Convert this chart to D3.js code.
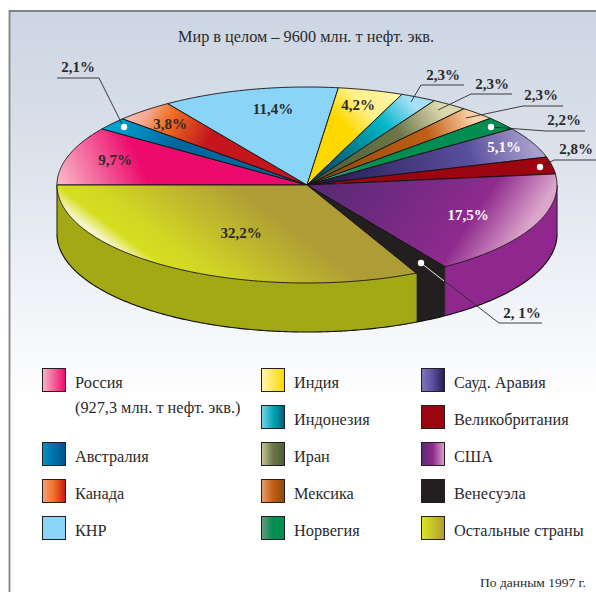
<!DOCTYPE html>
<html lang="ru">
<head>
<meta charset="utf-8">
<script src="https://cdn.jsdelivr.net/npm/d3@7"></script>
<style>
  html, body { margin: 0; padding: 0; background: #fff; }
  svg { display: block; }
  text { font-family: "Liberation Serif", serif; fill: #2b2a2b; }
</style>
</head>
<body>
<div id="chart"></div>
<script>
const categories = ["Россия", "Австралия", "Канада", "КНР", "Индия", "Индонезия", "Иран", "Мексика", "Норвегия", "Сауд. Аравия", "Великобритания", "США", "Венесуэла", "Остальные страны"];
const shares = [9.7, 2.1, 3.8, 11.4, 4.2, 2.3, 2.3, 2.3, 2.2, 5.1, 2.8, 17.5, 2.1, 32.2];
const shareLabels = ["9,7%", "2,1%", "3,8%", "11,4%", "4,2%", "2,3%", "2,3%", "2,3%", "2,2%", "5,1%", "2,8%", "17,5%", "2, 1%", "32,2%"];
const legendColumns = [
  ["Россия", null, "Австралия", "Канада", "КНР"],
  ["Индия", "Индонезия", "Иран", "Мексика", "Норвегия"],
  ["Сауд. Аравия", "Великобритания", "США", "Венесуэла", "Остальные страны"]
];
const titleText = "Мир в целом – 9600 млн. т нефт. экв.";
const russiaNote = "(927,3 млн. т нефт. экв.)";
const sourceText = "По данным 1997 г.";

const width = 596, height = 592;
const cx = 307, cy = 185, rx = 250, ry = 98, depth = 49;

// unit pie coords -> page pixels
const x = d3.scaleLinear().domain([-1, 1]).range([cx - rx, cx + rx]);
const y = d3.scaleLinear().domain([-1, 1]).range([cy - ry, cy + ry]);

// top face gradients: vector in unit pie coords, then [offset, colour]
const faceStyles = {
  "Россия": { v: [-0.99, -0.02, -0.69, -0.36], s: [[0, "#f9b6c6"], [1, "#ec0a6c"]] },
  "Австралия": { v: [-0.8, -0.56, -0.55, -0.3], s: [[0, "#00a6d6"], [1, "#00679e"]] },
  "Канада": { v: [-0.72, -0.75, -0.39, -0.28], s: [[0, "#f8c0b8"], [0.2, "#f6a890"], [0.42, "#f07022"], [0.9, "#c4161c"]] },
  "КНР": { s: [[0, "#89d4f7"], [1, "#89d4f7"]] },
  "Индия": { v: [0.31, -0.97, 0.15, -0.61], s: [[0, "#fff4a0"], [0.5, "#fff08a"], [1, "#ffd800"]] },
  "Индонезия": { v: [0.4, -0.89, 0.05, -0.1], s: [[0, "#a6e0f8"], [0.3, "#00b6c6"], [1, "#004a62"]] },
  "Иран": { v: [0.53, -0.79, 0.05, -0.1], s: [[0, "#dcd8ae"], [0.35, "#6b7648"], [1, "#4c6038"]] },
  "Мексика": { v: [0.67, -0.68, 0.05, -0.1], s: [[0, "#fcd4ac"], [0.3, "#c25e14"], [1, "#8a4a0c"]] },
  "Норвегия": { v: [0.75, -0.55, 0.05, -0.05], s: [[0, "#018e50"], [0.7, "#018e50"], [1, "#3aa890"]] },
  "Сауд. Аравия": { v: [0.89, -0.56, 0.05, -0.03], s: [[0, "#a89fce"], [0.3, "#5a4f9d"], [1, "#241b52"]] },
  "Великобритания": { s: [[0, "#9a0510"], [1, "#9a0510"]] },
  "США": { v: [0.89, 0.41, 0.25, -0.67], s: [[0, "#dca5cb"], [0.27, "#8f2a8e"], [1, "#5a2a76"]] },
  "Венесуэла": { s: [[0, "#231f20"], [1, "#231f20"]] },
  "Остальные страны": { v: [-0.89, 0.41, -0.59, -0.6], s: [[0, "#f7f4c8"], [0.12, "#d6de20"], [0.3, "#d2d624"], [1, "#ae9c36"]] }
};

const wallColors = { "США": "#90278e", "Венесуэла": "#231f20", "Остальные страны": "#a3a815" };

const swatchStops = {
  "Россия": ["#f9b6c6", "#ec0a6c"], "Австралия": ["#0092c4", "#00508c"], "Канада": ["#f7a080", "#f07022", "#c4161c"],
  "КНР": ["#89d4f7", "#89d4f7"], "Индия": ["#fff6b0", "#ffd800"], "Индонезия": ["#7fd4ea", "#00a8b8", "#005f78"],
  "Иран": ["#c8c498", "#6b7648", "#4c6038"], "Мексика": ["#e8a070", "#c25e14", "#8a4a0c"], "Норвегия": ["#6a9a80", "#018e50", "#018e50"],
  "Сауд. Аравия": ["#7e76bc", "#5a4f9d", "#241b52"], "Великобритания": ["#9a0510", "#9a0510"], "США": ["#5a2a76", "#8f2a8e", "#dca5cb"],
  "Венесуэла": ["#231f20", "#231f20"], "Остальные страны": ["#e0e41e", "#ae9c36"]
};

const svg = d3.select("#chart").append("svg").attr("width", width).attr("height", height);
const defs = svg.append("defs");

function addGradient(id, stops, attrs) {
  const g = defs.append("linearGradient").attr("id", id);
  Object.entries(attrs).forEach(([k, v]) => g.attr(k, v));
  stops.forEach(([o, c]) => g.append("stop").attr("offset", o).attr("stop-color", c));
}

// Background
addGradient("bg", [[0, "#ccd6e3"], [0.3, "#d8dfe9"], [0.55, "#e6ebf2"], [0.9, "#f9fafc"], [1, "#ffffff"]],
  { x1: 0, y1: 0, x2: 0, y2: 1 });
svg.append("rect").attr("x", 9).attr("y", 11).attr("width", width - 9).attr("height", 390).attr("fill", "url(#bg)");
svg.append("path").attr("d", `M9.5,${height}V11H${width}`).attr("fill", "none").attr("stroke", "#808285").attr("stroke-width", 1.8);

// Pie layout, clockwise from nine o'clock
const pie = d3.pie().value((d) => d).sort(null)
  .startAngle(-Math.PI / 2).endAngle(Math.PI * 1.5);
const arcs = pie(shares);

const rimPoints = (a0, a1, dy = 0) => {
  const n = Math.max(2, Math.ceil(Math.abs(a1 - a0) / 0.01));
  return d3.range(n + 1).map((i) => {
    const a = a0 + (a1 - a0) * i / n;
    return [x(Math.sin(a)), y(-Math.cos(a)) + dy];
  });
};
const line = d3.line();

// Side walls
const walls = svg.append("g");
arcs.forEach((d, i) => {
  const name = categories[i];
  if (!wallColors[name]) return;
  const a0 = Math.max(d.startAngle, Math.PI / 2);
  const a1 = d.endAngle;
  const pts = rimPoints(a0, a1).concat(rimPoints(a1, a0, depth));
  walls.append("path").attr("d", line(pts) + "Z").attr("fill", wallColors[name]).attr("stroke", wallColors[name]).attr("stroke-width", 0.4);
});
walls.append("path")
  .attr("d", line(rimPoints(Math.PI / 2, Math.PI * 1.5, depth)))
  .attr("fill", "none").attr("stroke", "#111").attr("stroke-width", 1.1);
walls.append("path").attr("d", line([[x(-1), cy], [x(-1), cy + depth]])).attr("fill", "none").attr("stroke", "#222").attr("stroke-width", 1);
walls.append("path").attr("d", line([[x(1), cy], [x(1), cy + depth]])).attr("fill", "none").attr("stroke", "#222").attr("stroke-width", 1);

// Top face
const face = svg.append("g");
arcs.forEach((d, i) => {
  const name = categories[i];
  const st = faceStyles[name];
  const v = st.v || [-1, 0, 1, 0];
  addGradient(`f${i}`, st.s, {
    gradientUnits: "userSpaceOnUse",
    x1: x(v[0]), y1: y(v[1]), x2: x(v[2]), y2: y(v[3])
  });
  const pts = [[cx, cy]].concat(rimPoints(d.startAngle, d.endAngle));
  face.append("path")
    .attr("d", line(pts) + "Z")
    .attr("fill", `url(#f${i})`)
    .attr("stroke", "#14110f")
    .attr("stroke-width", 0.9)
    .attr("stroke-linejoin", "round");
});

// Labels sitting on the slices
const labelAt = (name, px, py, fill) => svg.append("text")
  .attr("x", px).attr("y", py).attr("text-anchor", "middle")
  .attr("font-size", 15).attr("font-weight", "bold")
  .style("fill", fill || "#2b2a2b")
  .text(shareLabels[categories.indexOf(name)]);

labelAt("Россия", 115, 165);
labelAt("Канада", 170, 129);
labelAt("КНР", 273, 114);
labelAt("Индия", 358, 110);
labelAt("Сауд. Аравия", 504, 152, "#ffffff");
labelAt("США", 468, 220, "#ffffff");
labelAt("Остальные страны", 241, 238);

// Callouts: label, then leader from the label shelf to the slice
const callouts = [
  { name: "Австралия", tx: 78, ty: 72, path: [[57, 78], [99, 78], [123, 126]], dot: [124, 127] },
  { name: "Индонезия", tx: 443, ty: 80, path: [[464, 85], [421, 85], [411, 102]] },
  { name: "Иран", tx: 492, ty: 89, path: [[512, 94], [471, 94], [438, 110]] },
  { name: "Мексика", tx: 541, ty: 100, path: [[563, 106], [523, 106], [466, 118]] },
  { name: "Норвегия", tx: 564, ty: 125, path: [[585, 131], [546, 131], [491, 127]], dot: [491, 127] },
  { name: "Великобритания", tx: 576, ty: 154, path: [[596, 160], [554, 160], [540, 167]], dot: [540, 167] },
  { name: "Венесуэла", tx: 522, ty: 318, path: [[542, 323], [499, 323], [421, 263]], dot: [421, 263], white: [[421, 263], [444, 281]] }
];
callouts.forEach((c) => {
  labelAt(c.name, c.tx, c.ty);
  svg.append("path").attr("d", line(c.path)).attr("fill", "none").attr("stroke", "#2b2a2b").attr("stroke-width", 0.9);
  if (c.white) {
    svg.append("path").attr("d", line(c.white)).attr("fill", "none").attr("stroke", "#fff").attr("stroke-width", 0.9);
  }
  if (c.dot) {
    svg.append("circle").attr("cx", c.dot[0]).attr("cy", c.dot[1]).attr("r", 3.2).attr("fill", "#fff");
  }
});

// Title and source
svg.append("text").attr("x", 306).attr("y", 42).attr("text-anchor", "middle").attr("font-size", 16.3).text(titleText);
svg.append("text").attr("x", 586).attr("y", 587).attr("text-anchor", "end").attr("font-size", 13.5).text(sourceText);

// Legend
const rowY = d3.scaleLinear().domain([0, 4]).range([368, 516]);
const colX = d3.scaleOrdinal().domain([0, 1, 2]).range([42, 261, 421]);
const swatchSize = 24;
legendColumns.forEach((col, c) => {
  const g = svg.append("g").attr("transform", `translate(${colX(c)},0)`);
  col.forEach((name, r) => {
    if (!name) return;
    const stops = swatchStops[name];
    addGradient(`s${c}${r}`, stops.map((col, k) => [k / (stops.length - 1), col]), { x1: 0, y1: 0, x2: 1, y2: 0 });
    g.append("rect").attr("x", 0.5).attr("y", rowY(r) + 0.5).attr("width", swatchSize - 1).attr("height", swatchSize - 1)
      .attr("fill", `url(#s${c}${r})`).attr("stroke", "#231f20").attr("stroke-width", 1);
    g.append("text").attr("x", swatchSize + 9).attr("y", rowY(r) + 20).attr("font-size", 16.3).text(name);
  });
});
svg.append("text").attr("x", colX(0) + swatchSize + 9).attr("y", rowY(1) + 8).attr("font-size", 16.3).text(russiaNote);
</script>
</body>
</html>
